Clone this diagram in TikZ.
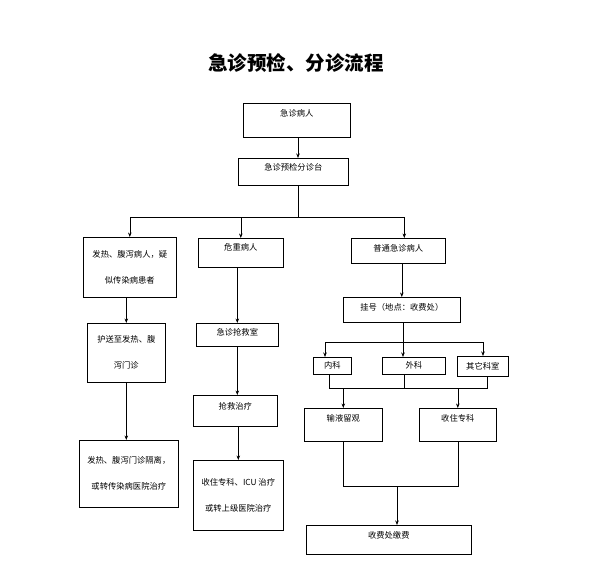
\documentclass[tikz,border=0pt]{standalone}
\usepackage{fontspec}
\setmainfont{Noto Sans CJK SC}
\usetikzlibrary{positioning,arrows.meta}

\begin{document}
\begin{tikzpicture}[
  x=1pt, y=-1pt,
  box/.style={draw, line width=0.6pt, anchor=north west, inner sep=2pt, align=center, font=\fontsize{8.3}{10}\selectfont},
  wh/.style 2 args={minimum width=#1pt, minimum height=#2pt},
  lift/.style={text height=7pt, text depth=#1pt},
  arr/.style={-{Stealth[length=4.5pt,width=3.5pt]}, line width=0.6pt},
  ln/.style={line width=0.6pt}
]
\useasboundingbox (0,0) rectangle (589,566);
\node[font=\fontsize{19.5}{22}\selectfont\bfseries] (title) at (296,63) {急诊预检、分诊流程};
\node[box, wh={107}{34}, lift=14.8] (sick) at (243,103) {急诊病人};
\node[box, wh={110}{27}, lift=9.8] (triage) at (238,158) {急诊预检分诊台};
\node[box, wh={93}{60}] (fever) at (83,237) {发热、腹泻病人，疑\\[16pt]似传染病患者};
\node[box, wh={85}{29}, lift=11.8] (crit) at (198,238) {危重病人};
\node[box, wh={94}{25}, lift=5.8] (normal) at (351,238) {普通急诊病人};
\node[box, wh={78}{59}] (escort) at (87,323) {护送至发热、腹\\[16pt]泻门诊};
\node[box, wh={82}{23}, lift=5.8] (room) at (196,323) {急诊抢救室};
\node[box, wh={84}{31}, lift=9.8] (rescue) at (193,395) {抢救治疗};
\node[box, wh={99}{67}] (isolate) at (79,440) {发热、腹泻门诊隔离，\\[16pt]或转传染病医院治疗};
\node[box, wh={90}{70}] (admit) at (193,460) {收住专科、ICU 治疗\\[16pt]或转上级医院治疗};
\node[box, wh={117}{25}, lift=5.8] (reg) at (343,297) {挂号（地点：收费处）};
\node[box, wh={38}{17}] (med) at (313,357) {内科};
\node[box, wh={63}{17}] (surg) at (382,357) {外科};
\node[box, wh={51}{20}] (other) at (457,356) {其它科室};
\node[box, wh={78}{33}, lift=13.8] (obs) at (304,408) {输液留观};
\node[box, wh={77}{33}, lift=13.8] (ward) at (419,408) {收住专科};
\node[box, wh={165}{29}, lift=9.8] (pay) at (306,525) {收费处缴费};

\coordinate (bus1) at (298,217);
\draw[arr] (sick.south -| bus1) -- (bus1 |- triage.north);
\draw[ln] (triage.south -| bus1) -- (bus1);
\draw[arr] (bus1) -| (fever.north);
\draw[arr] (bus1) -| (crit.north);
\draw[arr] (bus1) -| ([xshift=6pt]normal.north);

\draw[arr] (escort.north |- fever.south) -- (escort.north);
\draw[arr] (escort.south) -- (escort.south |- isolate.north);
\draw[arr] (room.north |- crit.south) -- (room.north);
\draw[arr] (room.south) -- (room.south |- rescue.north);
\draw[arr] (admit.north |- rescue.south) -- (admit.north);

\coordinate (bus2) at (403,342);
\coordinate (b2l) at (325,342);
\coordinate (b2r) at (483,342);
\draw[arr] (reg.north |- normal.south) -- (reg.north);
\draw[arr] (reg.south -| bus2) -- (bus2 |- surg.north);
\draw[arr] (bus2) -| (b2l |- med.north);
\draw[arr] (bus2) -| (b2r |- other.north);

\coordinate (b3l) at (329,388);
\coordinate (b3m) at (404,388);
\coordinate (b3r) at (487,388);
\draw[ln] (b3l |- med.south) -- (b3l) -- (b3r) -- (b3r |- other.south);
\draw[ln] (b3m |- surg.south) -- (b3m);
\draw[arr] (obs.north |- b3l) -- (obs.north);
\draw[arr] (ward.north |- b3l) -- (ward.north);

\coordinate (b4) at (397,486);
\draw[ln] (obs.south) -- (obs.south |- b4) -- (ward.south |- b4) -- (ward.south);
\draw[arr] (b4) -- (b4 |- pay.north);
\end{tikzpicture}
\end{document}
